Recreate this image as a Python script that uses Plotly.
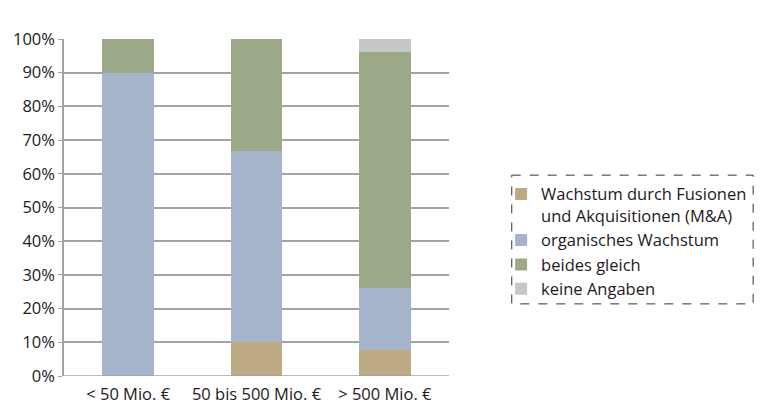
import plotly.graph_objects as go

categories = ["< 50 Mio. €", "50 bis 500 Mio. €", "> 500 Mio. €"]
series_names = [
    "Wachstum durch Fusionen<br>und Akquisitionen (M&A)",
    "organisches Wachstum",
    "beides gleich",
    "keine Angaben",
]
ma_growth = [0.0, 10.0, 7.8]
organic_growth = [90.0, 56.7, 18.4]
both_equal = [10.0, 33.3, 69.9]
no_answer = [0.0, 0.0, 3.9]
y_ticks = list(range(0, 101, 10))
y_tick_labels = [f"{v}%" for v in y_ticks]

colors = ["#bda983", "#a6b4cb", "#9ca989", "#c5c7c9"]
values = [ma_growth, organic_growth, both_equal, no_answer]

FONT = "Open Sans"
TEXT = "#1e1a1b"
GRID = "#a3a3a3"

fig = go.Figure()
for name, vals, col in zip(series_names, values, colors):
    fig.add_trace(go.Bar(
        x=categories, y=vals, name=name,
        marker=dict(color=col, line=dict(width=0)),
        hoverinfo="skip",
    ))

fig.update_layout(
    width=761, height=418,
    margin=dict(l=64, r=312, t=39, b=42, autoexpand=False),
    barmode="stack",
    bargap=0.595,
    plot_bgcolor="rgba(0,0,0,0)",
    paper_bgcolor="white",
    font=dict(family=FONT, size=16.5, color=TEXT),
    showlegend=True,
    legend=dict(
        xref="container", yref="container",
        x=0.6585, y=0.577, xanchor="left", yanchor="top",
        traceorder="normal",
        valign="top",
        font=dict(family=FONT, size=16.5, color=TEXT),
        bgcolor="rgba(0,0,0,0)",
        itemclick=False,
        tracegroupgap=0,
    ),
    xaxis=dict(
        showgrid=False, showline=False,
        ticks="outside", ticklen=3, tickcolor="rgba(0,0,0,0)",
        tickfont=dict(family=FONT, size=16.5, color=TEXT),
    ),
    yaxis=dict(
        range=[0, 100],
        tickvals=y_ticks, ticktext=y_tick_labels,
        showgrid=True, gridcolor=GRID, gridwidth=1.5,
        showline=True, linecolor=GRID, linewidth=1.5,
        ticks="outside", ticklen=4, tickcolor=GRID,
        tickfont=dict(family=FONT, size=16.5, color=TEXT),
        zeroline=False,
    ),
    shapes=[
        dict(type="line", xref="paper", yref="y", x0=0, x1=1, y0=0, y1=0,
             line=dict(color=GRID, width=1.5), layer="above"),
        dict(type="rect", xref="paper", yref="paper",
             x0=1.163, x1=1.79, y0=0.596, y1=0.214,
             line=dict(color="#333333", width=1, dash="dash")),
    ],
)

fig.write_html("out.html")
